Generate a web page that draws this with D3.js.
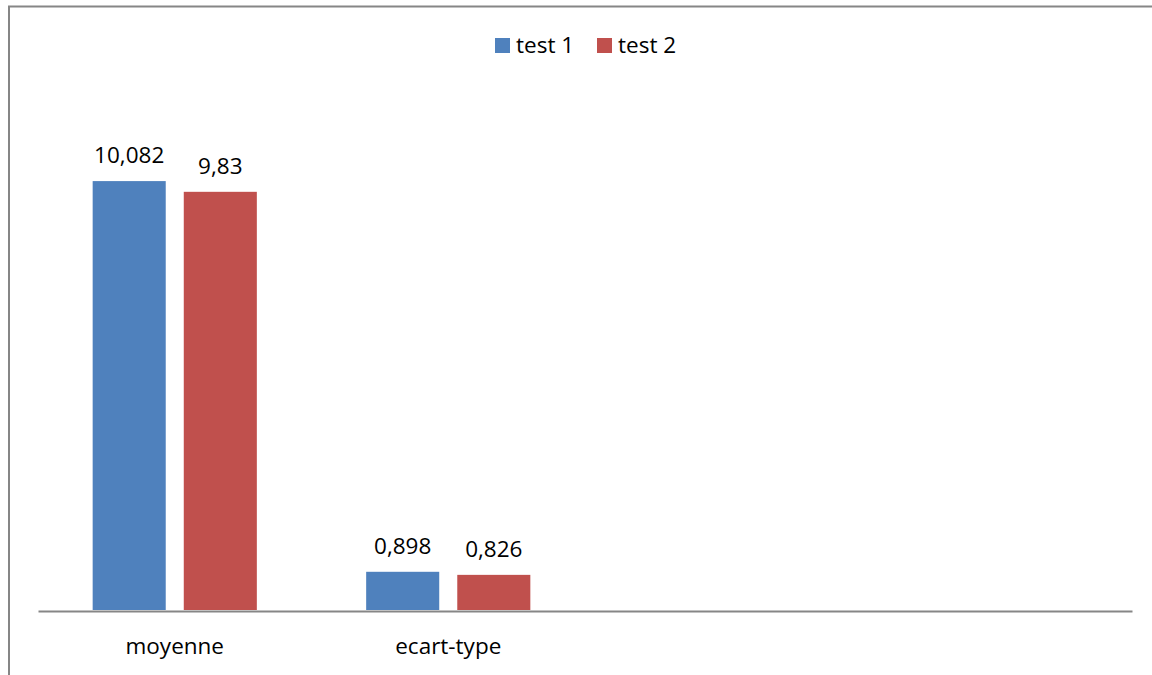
<!DOCTYPE html>
<html>
<head>
<meta charset="utf-8">
<script src="https://cdn.jsdelivr.net/npm/d3@7"></script>
<style>
  html, body { margin: 0; padding: 0; background: #fff; }
  svg { display: block; }
  text { font-family: "Open Sans", "Noto Sans", sans-serif; fill: #000; }
</style>
</head>
<body>
<svg id="chart" width="1152" height="675"></svg>
<script>
// Category slots along the axis (the last two are unused)
const categories = ["moyenne", "ecart-type", "", ""];
const seriesNames = ["test 1", "test 2"];
const test1 = [10.082, 0.898, null, null];
const test2 = [9.83, 0.826, null, null];
const valueLabels1 = ["10,082", "0,898", "", ""];
const valueLabels2 = ["9,83", "0,826", "", ""];
const colors = ["#4F81BD", "#C0504D"];

const fontSize = 22.5;
const svg = d3.select("#chart");

// Outer chart border
svg.append("path")
  .attr("d", "M9,680 V6.5 H1160")
  .attr("fill", "none")
  .attr("stroke", "#868686")
  .attr("stroke-width", 2);

const plot = { left: 38, right: 1132, top: 99.5, bottom: 610 };

const x = d3.scaleBand()
  .domain(d3.range(categories.length))
  .range([plot.left, plot.right])
  .padding(0);

const xInner = d3.scaleBand()
  .domain(d3.range(seriesNames.length))
  .range([0, x.bandwidth()])
  .paddingInner(0.198)
  .paddingOuter(0.6);

const y = d3.scaleLinear()
  .domain([0, 12])
  .range([plot.bottom, plot.top]);

const seriesValues = [test1, test2];
const seriesLabels = [valueLabels1, valueLabels2];

seriesValues.forEach((vals, s) => {
  const g = svg.append("g");
  const data = vals.map((v, i) => ({ i, v, label: seriesLabels[s][i] })).filter(d => d.v != null);
  g.selectAll("rect")
    .data(data)
    .join("rect")
    .attr("x", d => x(d.i) + xInner(s))
    .attr("width", xInner.bandwidth())
    .attr("y", d => y(d.v))
    .attr("height", d => y(0) - y(d.v))
    .attr("fill", colors[s]);
  g.selectAll("text")
    .data(data)
    .join("text")
    .attr("x", d => x(d.i) + xInner(s) + xInner.bandwidth() / 2)
    .attr("y", d => y(d.v) - 18)
    .attr("text-anchor", "middle")
    .attr("font-size", fontSize)
    .text(d => d.label);
});

// Category axis
const axis = svg.append("g")
  .attr("transform", `translate(0,${plot.bottom + 1})`)
  .call(d3.axisBottom(x).tickSize(0).tickFormat(i => categories[i]));
axis.select(".domain").attr("stroke", "#868686").attr("stroke-width", 2);
axis.selectAll(".tick text")
  .attr("font-size", fontSize)
  .attr("font-family", "Open Sans, Noto Sans, sans-serif")
  .attr("fill", "#000")
  .attr("dy", 0)
  .attr("y", 43);

// Legend
const legendItems = [
  { name: seriesNames[0], color: colors[0], x: 495 },
  { name: seriesNames[1], color: colors[1], x: 597 }
];
const legend = svg.append("g");
legendItems.forEach(it => {
  legend.append("rect")
    .attr("x", it.x).attr("y", 38)
    .attr("width", 15).attr("height", 15)
    .attr("fill", it.color);
  legend.append("text")
    .attr("x", it.x + 21).attr("y", 53)
    .attr("font-size", fontSize)
    .text(it.name);
});
</script>
</body>
</html>
